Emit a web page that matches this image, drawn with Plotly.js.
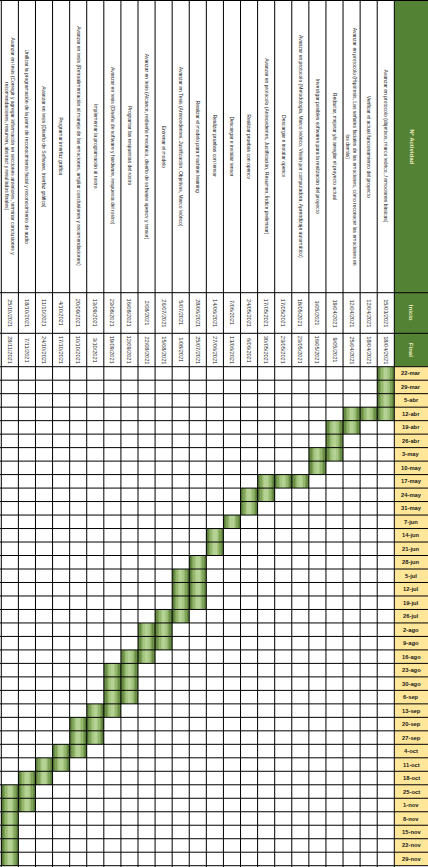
<!DOCTYPE html>
<html>
<head>
<meta charset="utf-8">
<script src="https://cdn.plot.ly/plotly-3.0.1.min.js"></script>
<style>
  html, body { margin: 0; padding: 0; background: #fff; }
  #chart { width: 428px; height: 867px; }
</style>
</head>
<body>
<div id="chart"></div>
<script>
const weeks = ['22-mar', '29-mar', '5-abr', '12-abr', '19-abr', '26-abr', '3-may', '10-may', '17-may',
  '24-may', '31-may', '7-jun', '14-jun', '21-jun', '28-jun', '5-jul', '12-jul', '19-jul', '26-jul',
  '2-ago', '9-ago', '16-ago', '23-ago', '30-ago', '6-sep', '13-sep', '20-sep', '27-sep', '4-oct',
  '11-oct', '18-oct', '25-oct', '1-nov', '8-nov', '15-nov', '22-nov', '29-nov'];

const activities = [
  'Avanzar en protocolo (objetivos, marco teórico, / emociones básicas)',
  'Verificar el actual funcionamiento del proyecto',
  'Avanzar en protocolo (Hipótesis, Las señales faciales de las emociones, cómo reconocer las emociones en<br>los demás)',
  'Redactar, mejorar y/o arreglar el proyecto actual',
  'Investigar posibles softwares para la realización del proyecto',
  'Avanzar en protocolo (Metodología, Marco teórico, Visión por computadora, Aprendizaje automático)',
  'Descargar e instalar opencv',
  'Avanzar en protocolo (Antecedentes, Justificación, Resumen, Índice preliminar)',
  'Realizar pruebas con opencv',
  'Descargar e instalar tensor',
  'Realizar pruebas con tensor',
  'Realizar el modelo para machine learning',
  'Avanzar en Tesis (Antecedentes, Justificación, Objetivos, Marco teórico)',
  'Entrenar el modelo',
  'Avanzar en tesis (Alcance, rediseño mecánico, diseño de software opencv y tensor)',
  'Programar las respuestas del rostro',
  'Avanzar en tesis (Diseño de software y hardware, respuesta del rostro)',
  'Implementar la programación al rostro',
  'Avanzar en tesis (Retroalimentación al manejo de las emociones, ampliar conclusiones y recomendaciones)',
  'Programar interfaz gráfica',
  'Avanzar en tesis (Diseño de Software, Interfaz gráfica)',
  'Unificar la programación de la parte de reconocimiento facial y reconocimiento de audio',
  'Avanzar en tesis (Corregir y agregar información en secciones anteriores, terminar conclusiones y<br>recomendaciones, resumen, abstract y resultados finales)'
];

const inicio = ['15/03/2021', '12/04/2021', '12/04/2021', '19/04/2021', '3/05/2021', '18/05/2021',
  '17/05/2021', '17/05/2021', '24/05/2021', '7/06/2021', '14/06/2021', '28/06/2021', '5/07/2021',
  '26/07/2021', '2/08/2021', '16/08/2021', '23/08/2021', '13/09/2021', '20/09/2021', '4/10/2021',
  '11/10/2021', '18/10/2021', '25/10/2021'];

const final = ['18/04/2021', '18/04/2021', '25/04/2021', '9/05/2021', '16/05/2021', '23/05/2021',
  '23/05/2021', '30/05/2021', '6/06/2021', '13/06/2021', '27/06/2021', '25/07/2021', '1/08/2021',
  '15/08/2021', '22/08/2021', '12/09/2021', '19/09/2021', '3/10/2021', '10/10/2021', '17/10/2021',
  '24/10/2021', '7/11/2021', '28/11/2021'];

// first and last week cell filled for each activity
const startWeek = ['22-mar', '12-abr', '12-abr', '19-abr', '3-may', '17-may', '17-may', '17-may',
  '24-may', '7-jun', '14-jun', '28-jun', '5-jul', '26-jul', '2-ago', '16-ago', '23-ago', '13-sep',
  '20-sep', '4-oct', '11-oct', '18-oct', '25-oct'];
const endWeek = ['12-abr', '12-abr', '19-abr', '3-may', '10-may', '17-may', '17-may', '24-may',
  '31-may', '7-jun', '21-jun', '19-jul', '26-jul', '9-ago', '16-ago', '6-sep', '13-sep', '27-sep',
  '4-oct', '11-oct', '18-oct', '1-nov', '29-nov'];

document.addEventListener("DOMContentLoaded", () => {
  const W = 428, H = 867;
  const FONT = 'Liberation Sans, Arial, sans-serif';

  // table geometry in pixels (rotated sheet)
  const gridTop = 366.7, gridBottom = 865.7;
  const colLeft = 1.3, colRight = 394.3;
  const bandInicio = 292.7, bandFinal = 333.3;

  const nCols = activities.length;
  const rowPx = (gridBottom - gridTop) / weeks.length;
  const colPx = (colRight - colLeft) / nCols;

  const yRange = [weeks.length - 0.5 + (H - gridBottom) / rowPx, -0.5 - gridTop / rowPx];
  const xRange = [nCols + 0.5 + colLeft / colPx, 0.5 - (W - colRight) / colPx];
  const headX = (0.5 + xRange[1]) / 2;
  const py = p => 1 - p / H;

  const colX = activities.map((_, i) => i + 1);
  const s = startWeek.map(w => weeks.indexOf(w));
  const e = endWeek.map(w => weeks.indexOf(w));

  // stepped horizontal gradient like the Excel fill
  const layers = [
    { w: 1.0, c: '#587b38' },
    { w: 0.84, c: '#6b8e47' },
    { w: 0.68, c: '#80a35a' },
    { w: 0.52, c: '#95b76e' },
    { w: 0.36, c: '#a6c781' },
    { w: 0.2, c: '#b3d293' }
  ];

  const traces = layers.map(l => ({
    type: 'bar',
    x: colX,
    base: s.map(v => v - 0.5),
    y: s.map((v, i) => e[i] - v + 1),
    width: l.w,
    marker: { color: l.c, line: { width: 0 } },
    hoverinfo: 'skip',
    showlegend: false
  }));

  const shapes = [];
  // header column and week-label column backgrounds
  shapes.push({ type: 'rect', layer: 'below', xref: 'x', yref: 'paper', x0: 0.5, x1: xRange[1],
    y0: py(gridTop), y1: 1, fillcolor: '#548235', line: { width: 0 } });
  shapes.push({ type: 'rect', layer: 'below', xref: 'x', yref: 'y', x0: 0.5, x1: xRange[1],
    y0: -0.5, y1: weeks.length - 0.5, fillcolor: '#ffe699', line: { width: 0 } });

  const line = { color: '#000', width: 1 };
  for (let k = 0; k <= nCols; k++) {
    shapes.push({ type: 'line', layer: 'above', xref: 'x', yref: 'paper',
      x0: k + 0.5, x1: k + 0.5, y0: 0, y1: 1, line });
  }
  for (let i = 0; i <= weeks.length; i++) {
    shapes.push({ type: 'line', layer: 'above', xref: 'paper', yref: 'y',
      x0: 0, x1: 1, y0: i - 0.5, y1: i - 0.5, line });
  }
  [0.5, bandInicio, bandFinal].forEach(p => {
    shapes.push({ type: 'line', layer: 'above', xref: 'paper', yref: 'paper',
      x0: 0, x1: 1, y0: py(p), y1: py(p), line });
  });

  const annotations = [];
  const nameY = py(bandInicio / 2);
  const iniY = py((bandInicio + bandFinal) / 2);
  const finY = py((bandFinal + gridTop) / 2);

  function cellText(x, yref, y, text, font, angle) {
    return { xref: 'x', yref: yref, x: x, y: y, text: text, textangle: angle,
      xanchor: 'center', yanchor: 'middle', showarrow: false, align: 'center', font: font };
  }

  const nameFont = { family: FONT, size: 5, color: '#222' };
  const dateFont = { family: FONT, size: 5.6, color: '#222' };
  activities.forEach((name, i) => {
    annotations.push(cellText(colX[i], 'paper', nameY, name, nameFont, 90));
    annotations.push(cellText(colX[i], 'paper', iniY, inicio[i], dateFont, 90));
    annotations.push(cellText(colX[i], 'paper', finY, final[i], dateFont, 90));
  });

  const headFont = { family: FONT, size: 6, color: '#f3efc4' };
  annotations.push(cellText(headX, 'paper', nameY, '<b>Nº Actividad</b>', headFont, 90));
  annotations.push(cellText(headX, 'paper', iniY, '<b>Inicio</b>', headFont, 90));
  annotations.push(cellText(headX, 'paper', finY, '<b>Final</b>', headFont, 90));

  const weekFont = { family: FONT, size: 5.8, color: '#1a1a1a' };
  weeks.forEach((w, i) => {
    annotations.push(cellText(headX, 'y', i, '<b>' + w + '</b>', weekFont, 0));
  });

  const axisBase = { showgrid: false, zeroline: false, showticklabels: false, showline: false,
    ticks: '', fixedrange: true };

  const layout = {
    width: W,
    height: H,
    margin: { l: 0, r: 0, t: 0, b: 0 },
    paper_bgcolor: '#fff',
    plot_bgcolor: '#fff',
    barmode: 'overlay',
    bargap: 0,
    showlegend: false,
    xaxis: Object.assign({ range: xRange }, axisBase),
    yaxis: Object.assign({ range: yRange }, axisBase),
    shapes: shapes,
    annotations: annotations
  };

  Plotly.newPlot('chart', traces, layout, { displayModeBar: false, staticPlot: true })
      .catch(error => console.error('Error rendering gantt:', error));
});
</script>
</body>
</html>
